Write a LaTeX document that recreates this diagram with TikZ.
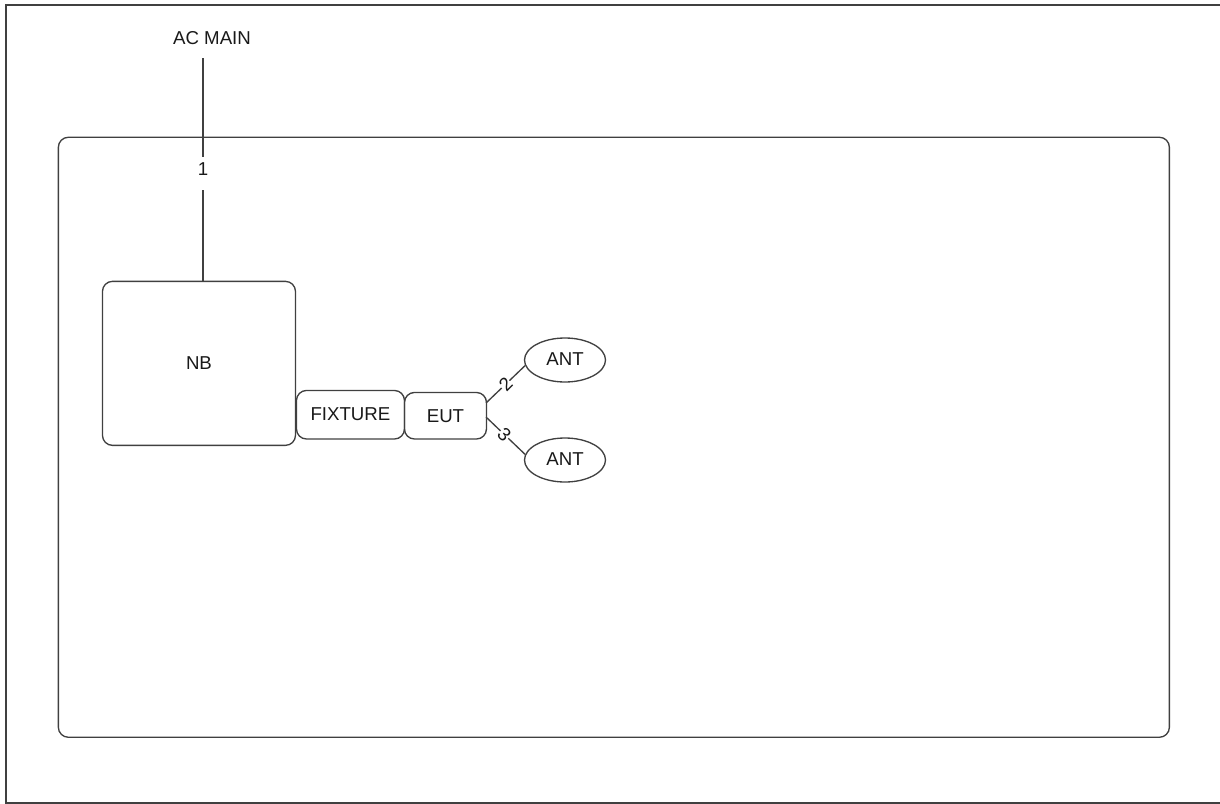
\documentclass[tikz,border=0pt]{standalone}
\usepackage{fontspec}
\setmainfont{Liberation Sans}
\usetikzlibrary{shapes.geometric}
\tikzset{
  x=0.75pt,y=-0.75pt,
  rbox/.style={draw=black!75,line width=1pt,rounded corners=7.5pt,inner sep=0pt,anchor=north west},
  oval/.style={draw=black!75,line width=1pt,ellipse,inner sep=0pt,minimum width=60.75pt,minimum height=33pt,text depth=1.5pt},
  wire/.style={draw=black!75,line width=1pt},
  txt/.style={font=\fontsize{14}{16}\selectfont,text=black!90},
  lbl/.style={txt,fill=white,inner sep=0pt}
}
\begin{document}
\begin{tikzpicture}
\useasboundingbox (0,0) rectangle (1220,803);
\node[draw=black!75,line width=1.3pt,minimum width=910.9pt,minimum height=598.5pt,inner sep=0pt,anchor=north west] (frame) at (5,4) {};
\node[rbox,minimum width=833.25pt,minimum height=450pt] (panel) at (57.7,136.6) {};
\node[rbox,minimum width=144.75pt,minimum height=123pt,txt] (nb) at (101.8,280.7) {NB};
\node[rbox,minimum width=81pt,minimum height=36.4pt,txt,text depth=1pt] (fix) at (295.8,389.8) {FIXTURE};
\node[rbox,minimum width=61.5pt,minimum height=34.9pt,txt] (eut) at (403.8,391.8) {EUT};
\node[oval,txt] (ant1) at (565,360) {ANT};
\node[oval,txt] (ant2) at (565,460) {ANT};
\node[txt] (ac) at (212,37.6) {AC MAIN};
\coordinate (acend) at (203,58);
\coordinate (nbtop) at (203,281);
\coordinate (e1) at (486,403);
\coordinate (e2) at (486,417);
\draw[wire] (acend) -- node[lbl,pos=0.518,text height=13.5pt,text depth=11.25pt] (l1) {1} (nbtop);
\draw[wire] (e1) -- node[lbl,pos=0.5,rotate=45] (l2) {2} (ant1.188);
\draw[wire] (e2) -- node[lbl,pos=0.47,rotate=-45] (l3) {3} (ant2.172);
\end{tikzpicture}
\end{document}
